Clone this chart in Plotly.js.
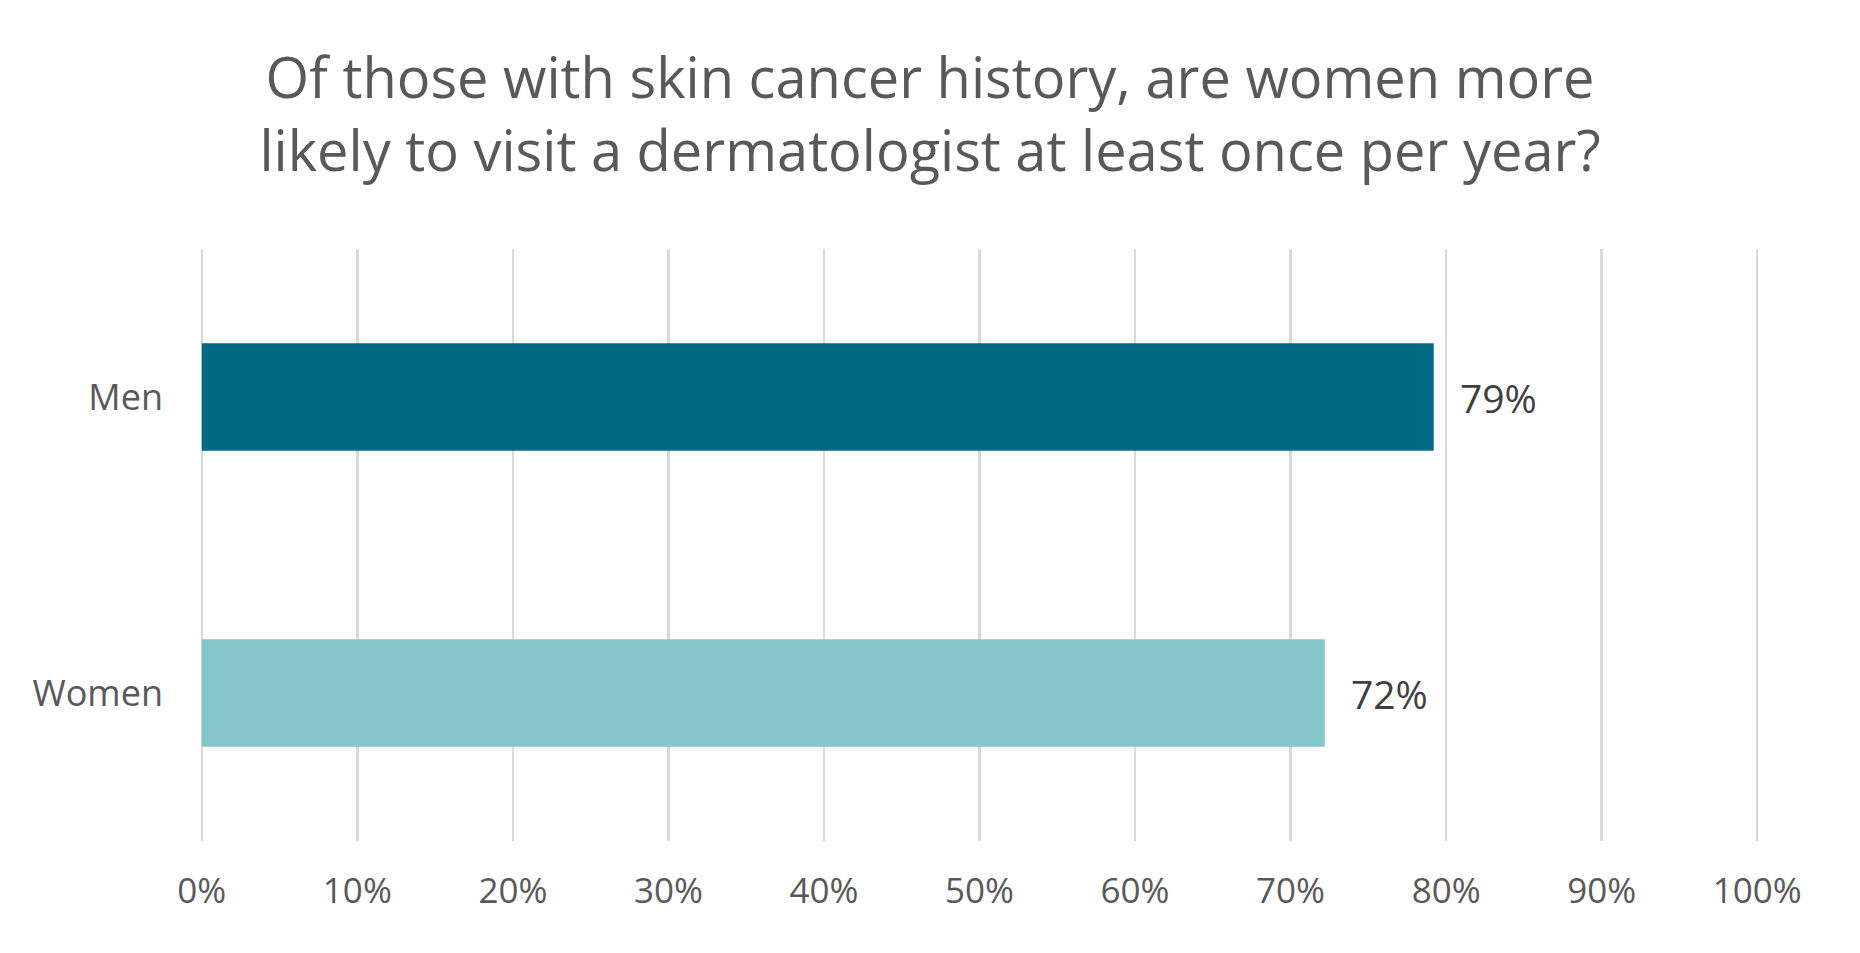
<!DOCTYPE html>
<html>
<head>
<meta charset="utf-8">
<script src="https://cdn.plot.ly/plotly-3.0.1.min.js"></script>
<style>html,body{margin:0;padding:0;background:#fff;}#chart{width:1860px;height:953px;}</style>
</head>
<body>
<div id="chart"></div>
<script>
const categories = ["Men", "Women"];
const values = [79.2, 72.2];
const valueLabels = ["79%", "72%"];
const barColors = ["#006A84", "#86C5CA"];
const xTickVals = [0, 10, 20, 30, 40, 50, 60, 70, 80, 90, 100];
const xTickText = ["0%", "10%", "20%", "30%", "40%", "50%", "60%", "70%", "80%", "90%", "100%"];
const titleText = "Of those with skin cancer history, are women more<br>likely to visit a dermatologist at least once per year?";

const FONT = "'Open Sans', 'Noto Sans', sans-serif";

const trace = {
  type: "bar",
  orientation: "h",
  y: categories,
  x: values,
  marker: {color: barColors, line: {width: 0}},
  hoverinfo: "skip"
};

const annotations = categories.map((c, i) => ({
  x: values[i], y: c, xref: "x", yref: "y",
  text: valueLabels[i], showarrow: false,
  xanchor: "left", yanchor: "middle", xshift: 24,
  font: {family: FONT, size: 39, color: "#404040"}
}));

const layout = {
  width: 1860, height: 953,
  paper_bgcolor: "#ffffff", plot_bgcolor: "#ffffff",
  margin: {l: 199, r: 100, t: 249, b: 112, pad: 0},
  title: {
    text: titleText, xref: "container", x: 0.5, xanchor: "center",
    yref: "container", y: 1 - 98/953, yanchor: "middle",
    font: {family: FONT, size: 56, color: "#595959"}
  },
  bargap: 0.636,
  showlegend: false,
  xaxis: {
    range: [-0.18, 100.18], tickvals: xTickVals, ticktext: xTickText,
    showgrid: true, gridcolor: "#D9D9D9", gridwidth: 2.5,
    zeroline: false, showline: false, ticks: "",
    ticklabelstandoff: 26,
    tickfont: {family: FONT, size: 35, color: "#595959"},
    fixedrange: true
  },
  yaxis: {
    type: "category", categoryorder: "array", categoryarray: categories,
    autorange: "reversed", range: [-0.5, 1.5],
    showgrid: false, zeroline: false, showline: false, ticks: "",
    ticklabelstandoff: 35,
    tickfont: {family: FONT, size: 36, color: "#595959"},
    fixedrange: true
  },
  annotations: annotations
};

Plotly.newPlot("chart", [trace], layout, {displayModeBar: false, staticPlot: true});
</script>
</body>
</html>
